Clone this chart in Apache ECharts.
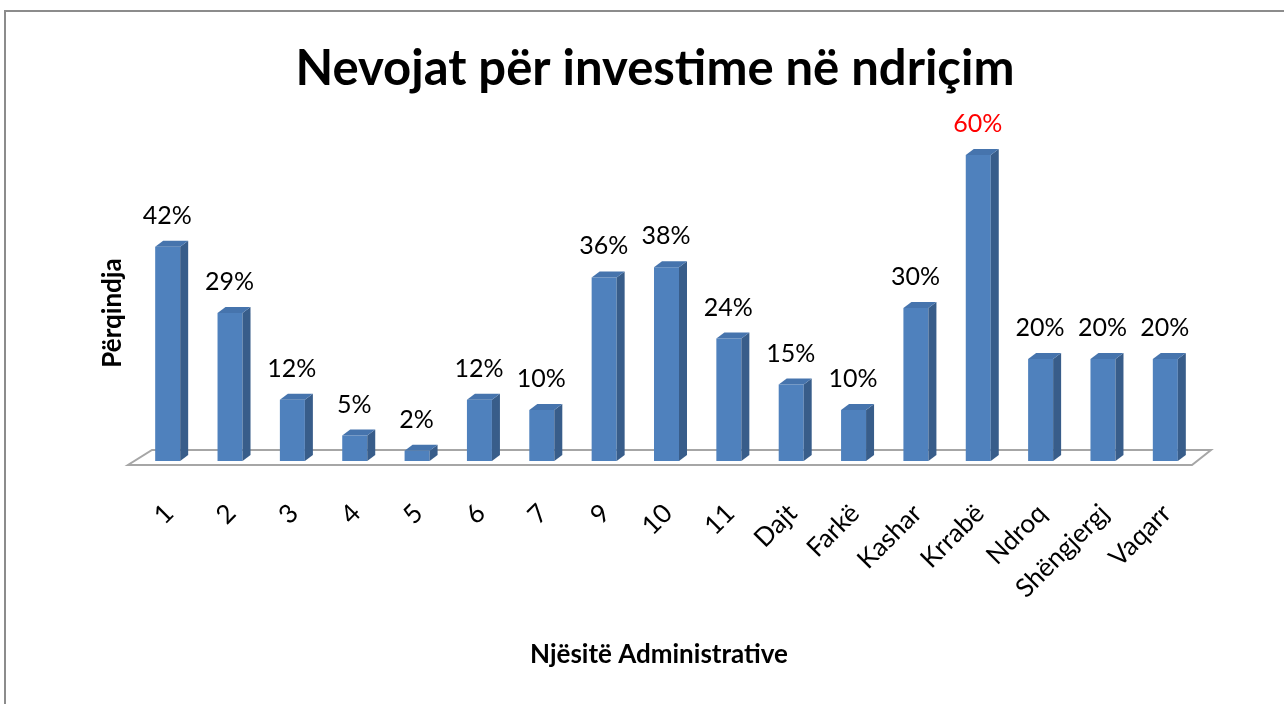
<!DOCTYPE html>
<html>
<head>
<meta charset="utf-8">
<script src="https://cdn.jsdelivr.net/npm/echarts@6/dist/echarts.min.js"></script>
<style>
    html, body {margin: 0; padding: 0; background: #fff;}
    #chart {width: 1284px; height: 704px;}
</style>
</head>
<body>
<div id="chart"></div>
<script>
// data
var categories = ['1', '2', '3', '4', '5', '6', '7', '9', '10', '11',
    'Dajt', 'Farkë', 'Kashar', 'Krrabë', 'Ndroq', 'Shëngjergj', 'Vaqarr'];
var values = [42, 29, 12, 5, 2, 12, 10, 36, 38, 24, 15, 10, 30, 60, 20, 20, 20];
var titleText = 'Nevojat për investime në ndriçim';
var yName = 'Përqindja';
var xName = 'Njësitë Administrative';

var FONT = 'Lato, "Open Sans", sans-serif';
var maxIdx = values.indexOf(Math.max.apply(null, values));

function renderFloor(params, api){
    var cs = params.coordSys;
    var base = cs.y + cs.height;
    var pts = [
        [cs.x - 10, base + 4],
        [cs.x + cs.width - 6, base + 4],
        [cs.x + cs.width + 13, base - 11],
        [cs.x + 14, base - 11]
    ];
    return {
        type: 'polygon',
        shape: {points: pts},
        style: {fill: '#fff', stroke: '#A6A6A6', lineWidth: 2}
    };
}

function renderBar(params, api){
    var idx = api.value(0);
    var val = api.value(1);
    var top = api.coord([idx, val]);
    var base = api.coord([idx, 0]);
    var w = 25, d = 8, h = 6;
    var x0 = top[0] - 14, x1 = x0 + w;
    var ty = top[1], by = base[1];
    return {
        type: 'group',
        children: [
            {type: 'rect', shape: {x: x0, y: ty, width: w, height: by - ty},
                style: {fill: '#4F81BD'}},
            {type: 'polygon', shape: {points: [[x1, ty], [x1 + d, ty - h], [x1 + d, by - h], [x1, by]]},
                style: {fill: '#385D8A'}},
            {type: 'polygon', shape: {points: [[x0, ty], [x0 + d, ty - h], [x1 + d, ty - h], [x1, ty]]},
                style: {fill: '#4674AD'}},
            {type: 'text', style: {
                text: val + '%', x: top[0] - 2, y: ty - 31,
                align: 'center', verticalAlign: 'middle',
                font: '25px ' + FONT,
                fill: idx === maxIdx ? '#FF0000' : '#000'
            }}
        ]
    };
}

var chart = echarts.init(document.getElementById('chart'));
chart.setOption({
    backgroundColor: '#fff',
    animation: false,
    title: {
        text: titleText, left: 650, top: 40, textAlign: 'center',
        textStyle: {fontFamily: FONT, fontSize: 49, fontWeight: 'bold', color: '#000'}
    },
    grid: {left: 138, right: 86, top: 104, bottom: 243},
    xAxis: {
        type: 'category', data: categories,
        axisLine: {show: false}, axisTick: {show: false},
        axisLabel: {rotate: 45, margin: 48, fontSize: 26, fontFamily: FONT, color: '#000', interval: 0}
    },
    yAxis: {
        type: 'value', min: 0, max: 70, show: false
    },
    graphic: [
        {type: 'rect', shape: {x: 5, y: 11, width: 1400, height: 800},
            style: {fill: 'none', stroke: '#8C8C8C', lineWidth: 2}, z: -1},
        {type: 'text', x: 113, y: 313, rotation: Math.PI / 2,
            style: {text: yName, align: 'center', verticalAlign: 'middle',
                font: 'bold 26px ' + FONT, fill: '#000'}},
        {type: 'text', x: 659, y: 655,
            style: {text: xName, align: 'center', verticalAlign: 'middle',
                font: 'bold 26px ' + FONT, fill: '#000'}}
    ],
    series: [
        {type: 'custom', renderItem: renderFloor, data: [[0, 0]], z: 1, silent: true},
        {type: 'custom', renderItem: renderBar, z: 2,
            encode: {x: 0, y: 1},
            data: values.map(function(v, i){ return [i, v]; })}
    ]
});
</script>
</body>
</html>
